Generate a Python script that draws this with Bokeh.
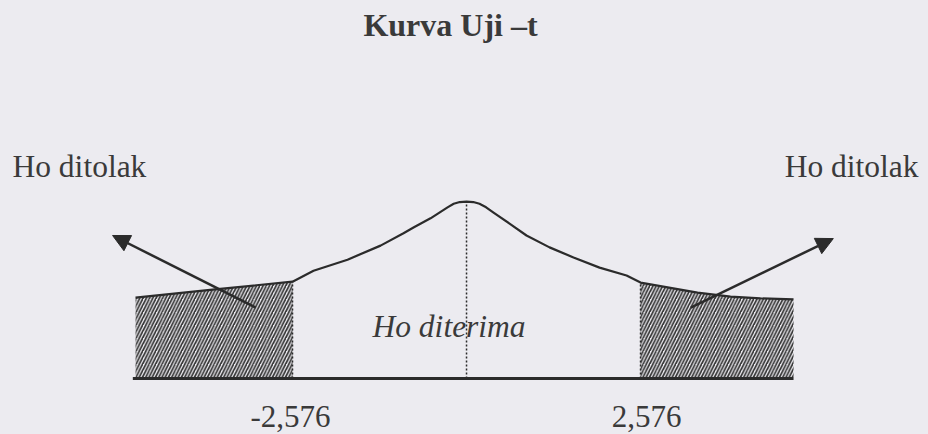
from bokeh.plotting import figure
from bokeh.models import Range1d, Label, Arrow, NormalHead
from bokeh.embed import file_html
from bokeh.resources import INLINE

# ---- data ----
title_text = "Kurva Uji \u2013t"
reject_text = "Ho ditolak"
accept_text = "Ho diterima"
crit_values = [-2.576, 2.576]
crit_labels = ["-2,576", "2,576"]

# hand-drawn density curve (t value, height)
curve_t = [-4.90, -3.76, -2.576, -2.265, -1.762, -1.273, -0.933, -0.785, -0.533,
           -0.281, -0.190, -0.100, 0.0, 0.100, 0.192, 0.290, 0.400, 0.637, 0.888,
           1.229, 1.584, 1.969, 2.369, 2.576, 3.42, 3.908, 4.352, 4.841]
curve_h = [0.184, 0.202, 0.220, 0.245, 0.270, 0.302, 0.330, 0.343, 0.364,
           0.389, 0.397, 0.401, 0.402, 0.401, 0.397, 0.389, 0.377, 0.352, 0.325,
           0.298, 0.275, 0.252, 0.234, 0.218, 0.195, 0.186, 0.182, 0.180]
peak_h = 0.402

# arrows: (t, height) start -> end
arrow_x0 = [-3.12, 3.32]
arrow_y0 = [0.161, 0.161]
arrow_x1 = [-5.24, 5.43]
arrow_y1 = [0.325, 0.318]

BG = "#ecebf0"
INK = "#2b2b2b"
TXT = "#3a3a3a"
SERIF = "Liberation Serif"

p = figure(width=928, height=434, output_backend="svg", toolbar_location=None,
           x_range=Range1d(-6.899, 6.839), y_range=Range1d(-0.1273, 0.8591),
           min_border=0, background_fill_color=BG, border_fill_color=BG,
           outline_line_color=None)
p.axis.visible = False
p.grid.visible = False

# rejection regions (hatched)
left = [(t, h) for t, h in zip(curve_t, curve_h) if t <= crit_values[0]]
right = [(t, h) for t, h in zip(curve_t, curve_h) if t >= crit_values[1]]
for part in (left, right):
    xs = [a for a, _ in part]
    ys = [b for _, b in part]
    p.varea(x=xs, y1=[0] * len(xs), y2=ys, fill_alpha=0,
            hatch_pattern="/", hatch_color="#333333", hatch_scale=6.5, hatch_weight=1.7)

# curve
p.line(curve_t, curve_h, line_color=INK, line_width=2.2, line_join="round")

# baseline
p.line([curve_t[0] - 0.04, curve_t[-1]], [0, 0], line_color=INK, line_width=2.8)

# dotted verticals at critical values and centre
crit_h = [curve_h[curve_t.index(c)] for c in crit_values]
p.segment(x0=crit_values, y0=[0, 0], x1=crit_values, y1=crit_h,
          line_color=INK, line_width=1.5, line_dash="2 2")
p.segment(x0=[0], y0=[0], x1=[0], y1=[peak_h],
          line_color=INK, line_width=1.5, line_dash="2 2")

# arrows
for xs, ys, xe, ye in zip(arrow_x0, arrow_y0, arrow_x1, arrow_y1):
    p.add_layout(Arrow(end=NormalHead(size=17, fill_color=INK, line_color=INK),
                       x_start=xs, y_start=ys, x_end=xe, y_end=ye,
                       line_color=INK, line_width=2.5))

# critical value labels (x in data units, y in screen units)
for cv, lab, dx in zip(crit_values, crit_labels, [-2, 6]):
    p.add_layout(Label(x=cv, y=18, y_units="screen", x_offset=dx, text=lab,
                       text_align="center", text_baseline="alphabetic", text_font=SERIF,
                       text_font_size="31px", text_color=TXT))

# texts
p.add_layout(Label(x=450, y=410, x_units="screen", y_units="screen", text=title_text,
                   text_align="center", text_baseline="alphabetic", text_font=SERIF,
                   text_font_style="bold", text_font_size="32px", text_color=TXT))
p.add_layout(Label(x=12, y=268, x_units="screen", y_units="screen", text=reject_text,
                   text_align="left", text_baseline="alphabetic", text_font=SERIF,
                   text_font_size="31.5px", text_color=TXT))
p.add_layout(Label(x=918, y=268, x_units="screen", y_units="screen", text=reject_text,
                   text_align="right", text_baseline="alphabetic", text_font=SERIF,
                   text_font_size="31.5px", text_color=TXT))
p.add_layout(Label(x=372, y=108, x_units="screen", y_units="screen", text=accept_text,
                   text_align="left", text_baseline="alphabetic", text_font=SERIF,
                   text_font_style="italic", text_font_size="31.5px", text_color=TXT))

html = file_html(p, INLINE)
html = html.replace("</head>",
                    "<style>html,body{margin:0;padding:0;background:%s;}</style></head>" % BG, 1)
open("out.html", "w").write(html)
